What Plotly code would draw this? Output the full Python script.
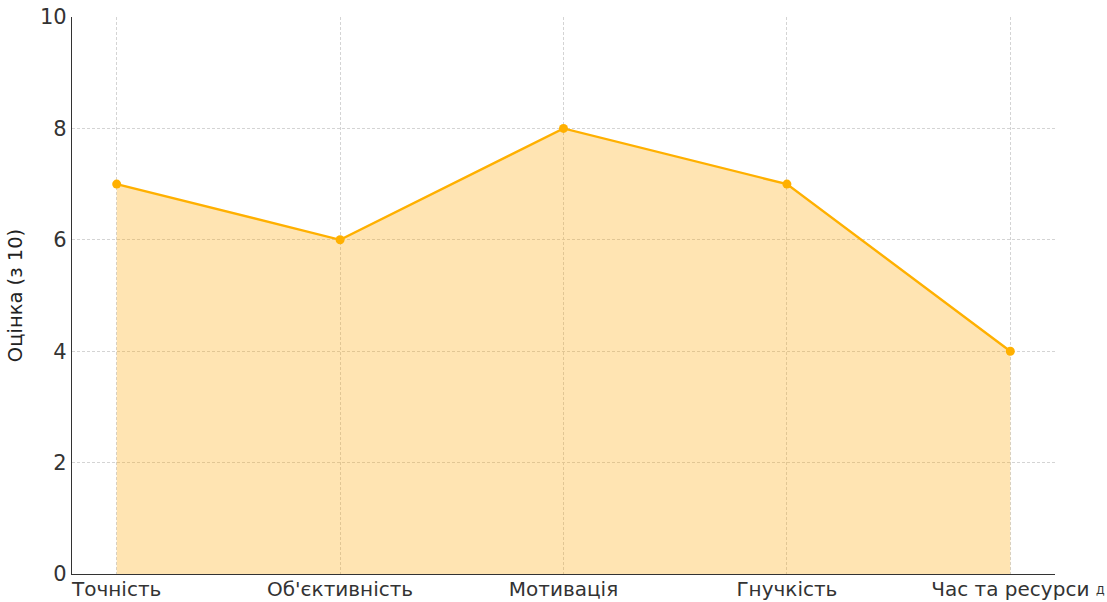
import plotly.graph_objects as go

categories = ["Точність", "Об'єктивність", "Мотивація", "Гнучкість", "Час та ресурси"]
scores = [7, 6, 8, 7, 4]
y_ticks = [0, 2, 4, 6, 8, 10]

line_color = "#FFB000"
fill_color = "rgba(255,165,0,0.3)"
font = "DejaVu Sans, sans-serif"

fig = go.Figure()
fig.add_trace(go.Scatter(
    x=list(range(len(categories))),
    y=scores,
    mode="lines+markers",
    line=dict(color=line_color, width=2.4),
    marker=dict(color=line_color, size=9),
    fill="tozeroy",
    fillcolor=fill_color,
    hoverinfo="skip",
    showlegend=False,
))

grid = dict(showgrid=True, gridcolor="#d4d4d4", griddash="3px,2px", gridwidth=1)

fig.update_xaxes(
    range=[-0.2, 4.2],
    tickvals=list(range(len(categories))),
    ticktext=categories,
    showline=True, linecolor="#333333", linewidth=1.3,
    ticks="", zeroline=False, automargin=False,
    ticklabelstandoff=-3,
    tickfont=dict(family=font, size=20, color="#333333"),
    **grid,
)
fig.update_yaxes(
    range=[0, 10],
    tickvals=y_ticks,
    showline=True, linecolor="#333333", linewidth=1.3,
    ticks="", zeroline=False, automargin=False,
    tickfont=dict(family=font, size=21, color="#333333"),
    title=dict(text="Оцінка (з 10)", font=dict(family=font, size=19.5, color="#222222"), standoff=12),
    **grid,
)

# x-axis label at the lower right corner
fig.add_annotation(
    text="Д", xref="paper", yref="paper", x=1.0525, y=-0.03,
    xanchor="right", yanchor="middle", showarrow=False,
    font=dict(family=font, size=11, color="#333333"),
)

fig.update_layout(
    width=1107, height=602,
    margin=dict(l=72, r=52, t=17, b=28),
    plot_bgcolor="white", paper_bgcolor="white",
)

fig.write_html("out.html")
